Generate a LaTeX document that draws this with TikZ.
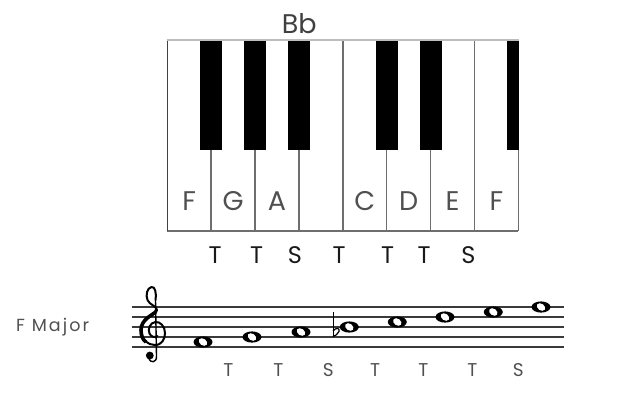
\documentclass[tikz,border=0pt]{standalone}
\usepackage{fontspec}
\setmainfont{Poppins}
\usetikzlibrary{positioning}
\definecolor{keyline}{HTML}{6E6E6E}
\definecolor{keytop}{HTML}{BDBDBD}
\definecolor{lettergray}{HTML}{505050}
\definecolor{stafflinecol}{HTML}{3A3A3A}
\tikzset{%
  key line/.style={draw=keyline, line width=1.4pt}, % thin lines between the white keys
  black key/.style={fill=black},
  key letter/.style={text=lettergray, font=\fontsize{27}{27}\selectfont, inner sep=0pt, anchor=base},
  step mark/.style={text=black!90, font=\fontsize{24}{24}\selectfont, inner sep=0pt, anchor=base},
  staff mark/.style={text=lettergray, font=\fontsize{18.5}{18.5}\selectfont, inner sep=0pt, anchor=base},
  staff line/.style={draw=stafflinecol, line width=1.2pt},
  clef stroke/.style={draw=black, line width=2pt, line cap=round, line join=round}
}

\begin{document}
\begin{tikzpicture}[x=1pt, y=-1pt]
    \useasboundingbox (0,0) rectangle (636,400);

    % keyboard
    \foreach \k in {1,2,3,5,6,7}
        \draw[key line] (167.3+43.875*\k,150) -- (167.3+43.875*\k,231);
    \draw[key line, line width=1.8pt] (342.8,40) -- (342.8,231);
    \draw[key line, line width=1.8pt] (474.4,40) -- (474.4,231);
    \draw[key line] (167.3,231) -- (518.3,231);
    \draw[key line, draw=keyline!60!black] (167.3,40) -- (167.3,231);
    \draw[key line, line width=1pt] (518.3,40) -- (518.3,231);
    \foreach \k in {1,2,3,5,6}
        \fill[black key] (156.3+43.875*\k,40) rectangle (178.3+43.875*\k,150);
    \fill[black key] (507.3,40) rectangle (518.8,150);
    \draw[draw=keytop, line width=2pt] (166.5,40) -- (519,40);

    \node[key letter, text=black!75] (flat) at (299.3,33) {Bb};
    \foreach \name/\x/\txt in {kf/189.2/F, kg/233.1/G, ka/277/A, kc/364.7/C, kd/408.6/D, ke/452.5/E, kff/496.4/F}
        \node[key letter] (\name) at (\x,210.5) {\txt};

    \foreach \i/\x/\txt in {1/215/T, 2/256.7/T, 3/295/S, 4/339/T, 5/387.7/T, 6/424/T, 7/468.3/S}
        \node[step mark] (ks\i) at (\x,263.3) {\txt};

    % staff
    \node[text=lettergray, font=\fontsize{17.5}{17.5}\selectfont\addfontfeatures{LetterSpace=12}, inner sep=0pt, anchor=base west] (scale) at (16,331.7) {F Major};
    \foreach \y in {307,317,327,337,347}
        \draw[staff line] (131.7,\y) -- (564,\y);

    % treble clef
    \draw[clef stroke] (155.5,300) .. controls (156.5,292) and (155,286.5) .. (151.5,287)
        .. controls (147,288) and (145.5,295) .. (147.5,300)
        .. controls (149.5,305) and (157,306) .. (157,310)
        .. controls (157,314) and (141,318) .. (141,330)
        .. controls (141,340) and (148,345) .. (155,345)
        .. controls (162,345) and (165,339) .. (165,333)
        .. controls (165,326) and (160,321.5) .. (155.5,322)
        .. controls (150,322.5) and (147.5,329) .. (149.5,333.5)
        .. controls (151,337) and (155,338) .. (157.5,336);
    \draw[clef stroke, line width=3.6pt, line cap=butt] (156,311.5) .. controls (153,315) and (141,319) .. (141,330)
        .. controls (141,336) and (143,340) .. (146,342);
    \draw[clef stroke, line width=1.4pt] (155.5,300) -- (156.5,356)
        .. controls (157,363) and (150,363.5) .. (148.5,358);
    \fill (149.8,355.5) circle (3.9);

    \foreach \i/\x/\y in {1/203/342, 2/252/337, 3/301/332, 4/349.3/327, 5/397.3/322, 6/445/317, 7/493.3/312, 8/541/307} {
        \fill (\x,\y) ellipse (9.5 and 5.6);
        \fill[white, rotate around={-35:(\x,\y)}] (\x,\y) ellipse (4.6 and 3.3);
    }
    % flat sign
    \draw[line width=0.9pt] (333,312) -- (333,336.5);
    \draw[line width=1.2pt] (333,331) .. controls (336,327) and (340.5,328) .. (339,331.5)
        .. controls (338,334) and (335,336) .. (333,336.5);

    \foreach \i/\x/\txt in {1/228.3/T, 2/278.3/T, 3/328.3/S, 4/375/T, 5/423.3/T, 6/472.3/T, 7/518.3/S}
        \node[staff mark] (ss\i) at (\x,376) {\txt};
\end{tikzpicture}
\end{document}
